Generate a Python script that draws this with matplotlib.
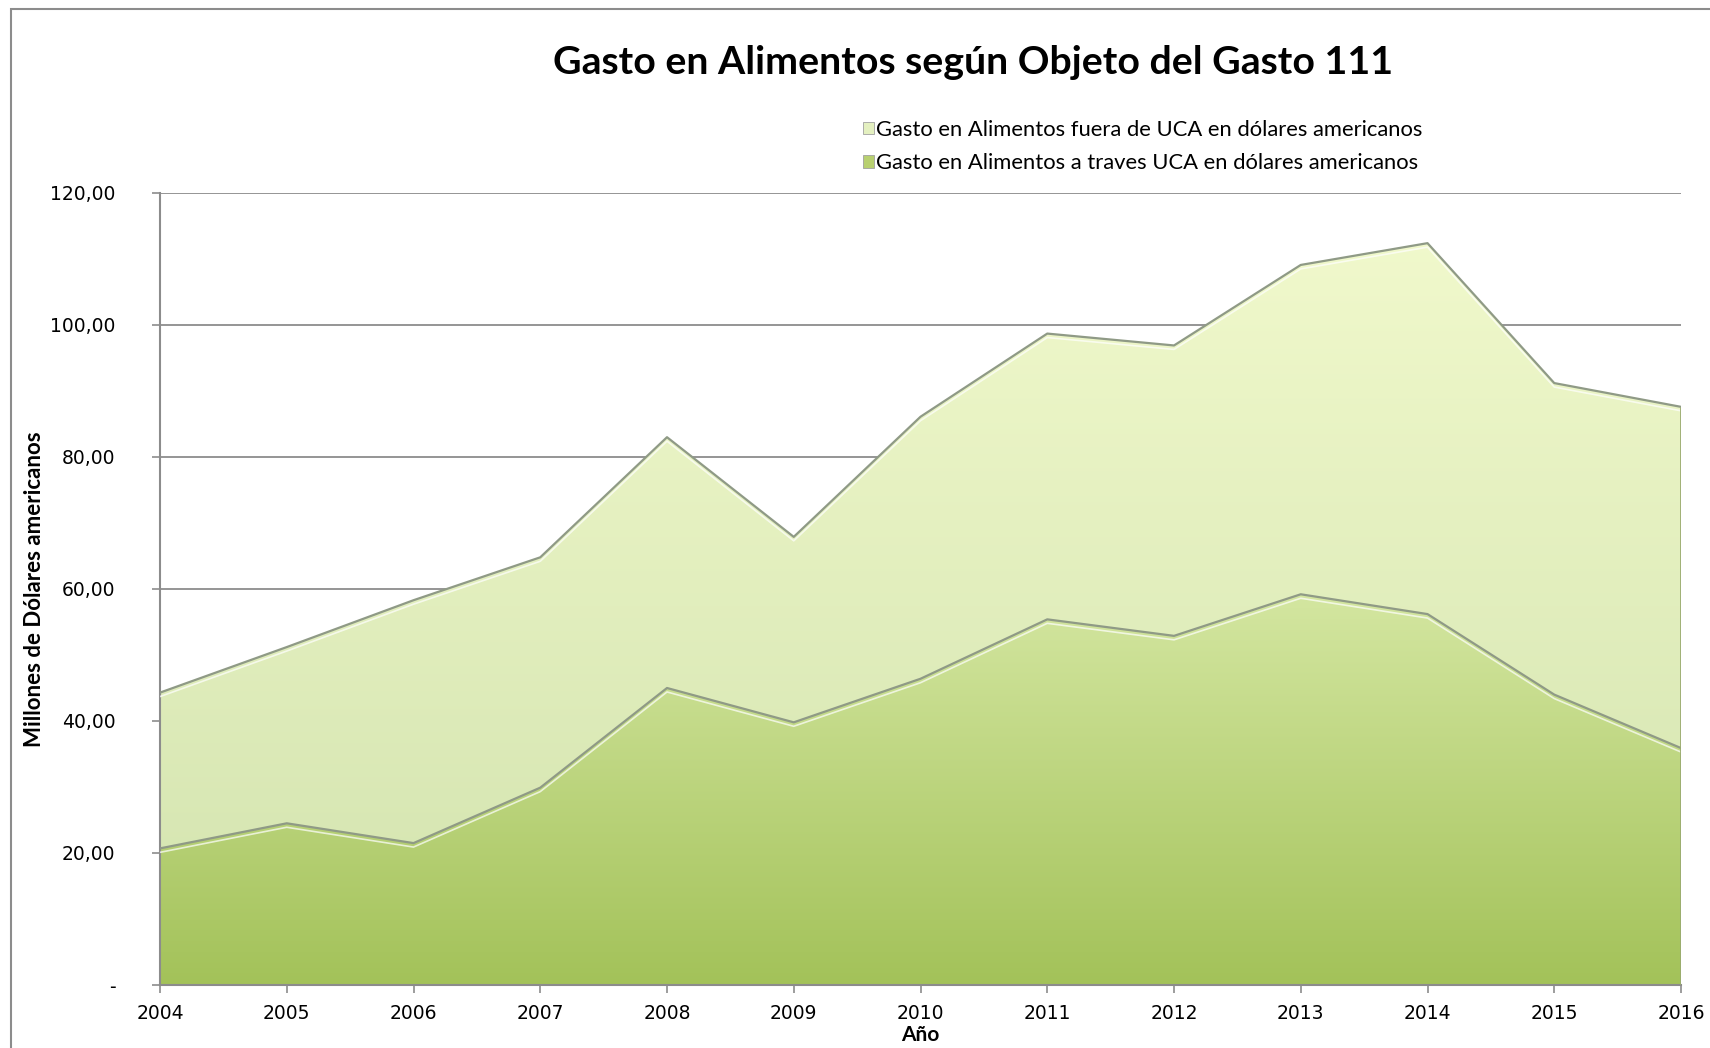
import numpy as np
import matplotlib
matplotlib.use("Agg")
import matplotlib.pyplot as plt
from matplotlib.colors import LinearSegmentedColormap
from matplotlib.patches import Rectangle, Patch

# values (millions of USD)
years = [2004, 2005, 2006, 2007, 2008, 2009, 2010, 2011, 2012, 2013, 2014, 2015, 2016]
gasto_uca = [20.7, 24.5, 21.5, 29.9, 45.0, 39.8, 46.4, 55.4, 52.9, 59.2, 56.2, 44.0, 35.9]
gasto_total = [44.3, 51.2, 58.3, 64.8, 83.0, 67.9, 86.1, 98.7, 96.9, 109.1, 112.4, 91.2, 87.6]
gasto_fuera = [t - u for t, u in zip(gasto_total, gasto_uca)]

yticks = [0, 20, 40, 60, 80, 100, 120]
ytick_labels = ["-", "20,00", "40,00", "60,00", "80,00", "100,00", "120,00"]

label_fuera = "Gasto en Alimentos fuera de UCA en dólares americanos"
label_uca = "Gasto en Alimentos a traves UCA en dólares americanos"

plt.rcParams['font.family'] = ['DejaVu Sans']

fig = plt.figure(figsize=(17.1, 10.48), dpi=100)
ax = fig.add_axes([160 / 1710, 1 - 985 / 1048, (1681 - 160) / 1710, (985 - 193) / 1048])

x = np.array(years, dtype=float)
lower = np.array(gasto_uca)
upper = lower + np.array(gasto_fuera)

cmap_low = LinearSegmentedColormap.from_list("low", ["#a3c259", "#d6e8a4"])
cmap_up = LinearSegmentedColormap.from_list("up", ["#d2e3ae", "#f1f9cc"])


def gradient_fill(y0, y1, cmap, vmax):
    poly = ax.fill_between(x, y0, y1, facecolor="none", edgecolor="none", zorder=2)
    grad = np.linspace(0, 1, 256).reshape(-1, 1)
    im = ax.imshow(grad, cmap=cmap, aspect="auto", origin="lower",
                   extent=[x[0], x[-1], 0, vmax], zorder=2, interpolation="bicubic")
    im.set_clip_path(poly.get_paths()[0], ax.transData)
    return poly


gradient_fill(lower, upper, cmap_up, 115)
gradient_fill(0, lower, cmap_low, 62)

# edges of the areas
ax.plot(x, upper, color="#8f9a86", lw=1.6, zorder=3)
ax.plot(x, upper - 0.6, color="#ffffff", lw=1.2, alpha=0.7, zorder=3)
ax.plot(x, lower, color="#8f9a86", lw=1.6, zorder=3)
ax.plot(x, lower - 0.6, color="#ffffff", lw=1.2, alpha=0.7, zorder=3)
ax.vlines(x[-1], 0, upper[-1], color="#9aab70", lw=2, zorder=3)

ax.set_xlim(years[0], years[-1])
ax.set_ylim(0, 120)
ax.set_yticks(yticks)
ax.set_yticklabels(ytick_labels)
ax.set_xticks(years)
ax.set_xticklabels([str(y) for y in years])
ax.tick_params(axis="both", labelsize=13.5, colors="#8c8c8c", labelcolor="black",
               length=6, width=1.2, direction="out")
ax.tick_params(axis="x", pad=8)
ax.tick_params(axis="y", pad=26)
ax.grid(axis="y", color="#8c8c8c", lw=1.3, zorder=1)
ax.set_axisbelow(True)
for s in ["top", "right"]:
    ax.spines[s].set_visible(False)
for s in ["left", "bottom"]:
    ax.spines[s].set_color("#8c8c8c")
    ax.spines[s].set_linewidth(1.5)

ax.set_ylabel("Millones de Dólares americanos", fontsize=16, fontweight="bold",
              family="Lato", labelpad=4)
ax.set_xlabel("Año", fontsize=15, fontweight="bold", family="Lato", labelpad=1)

fig.text(973 / 1710, 1 - 63 / 1048, "Gasto en Alimentos según Objeto del Gasto 111",
         ha="center", va="center", fontsize=28.3, fontweight="bold", family="Lato")

handles = [Patch(facecolor="#e4f0c0", edgecolor="#a0a0a0", lw=0.6),
           Patch(facecolor="#b8d070", edgecolor="#a0a0a0", lw=0.6)]
fig.legend(handles, [label_fuera, label_uca], loc="upper left",
           bbox_to_anchor=(852 / 1710, 1 - 109 / 1048), frameon=False,
           prop={"family": "Lato", "size": 15.8}, handlelength=0.5, handleheight=0.5,
           handletextpad=0.1, labelspacing=0.6, borderpad=0)

fig.patches.append(Rectangle((11 / 1710, -0.1), 1.2, 1.1 - 9 / 1048, transform=fig.transFigure,
                             fill=False, edgecolor="#8c8c8c", lw=1.5))

fig.savefig("out.png", dpi=100)
